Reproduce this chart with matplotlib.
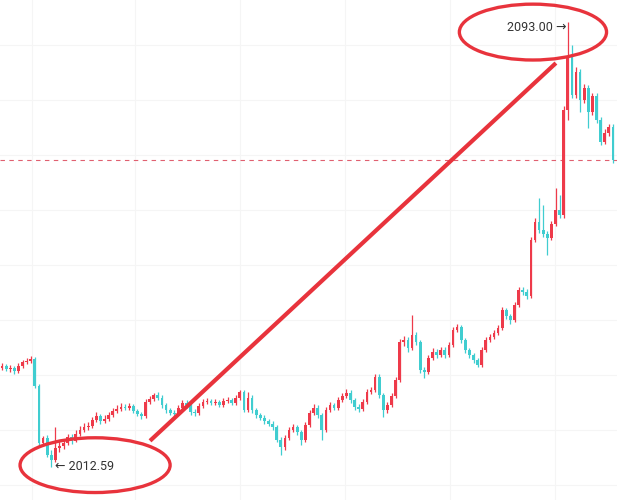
import numpy as np
import matplotlib.pyplot as plt
from matplotlib.patches import Ellipse

plt.rcParams['font.family'] = ['Roboto', 'DejaVu Sans']

# candle values (price units)
opens = [2030.5, 2030.8, 2030.3, 2030.5, 2029.9, 2030.8, 2031.6, 2031.7, 2032.1, 2027.2,
         2016.9, 2017.8, 2014.8, 2013.9, 2016.0, 2016.4, 2016.9, 2018.0, 2017.3, 2018.6,
         2019.3, 2019.8, 2020.0, 2021.1, 2021.8, 2020.9, 2021.3, 2022.0, 2022.7, 2023.1,
         2023.4, 2023.3, 2023.6, 2022.7, 2022.2, 2021.8, 2024.3, 2024.9, 2025.6, 2025.1,
         2023.8, 2022.9, 2022.4, 2022.2, 2023.3, 2024.2, 2023.8, 2022.5, 2022.4, 2023.6,
         2024.3, 2024.5, 2024.2, 2024.3, 2023.8, 2024.5, 2024.7, 2024.2, 2025.1, 2026.2,
         2022.9, 2025.1, 2022.9, 2022.0, 2021.5, 2020.9, 2020.4, 2019.8, 2017.5, 2016.2,
         2017.8, 2019.3, 2019.8, 2018.9, 2017.5, 2020.2, 2022.4, 2023.3, 2022.0, 2019.3,
         2022.9, 2023.8, 2023.3, 2024.7, 2025.4, 2026.0, 2024.7, 2023.4, 2023.1, 2024.3,
         2026.2, 2026.5, 2028.9, 2025.6, 2022.9, 2023.8, 2025.4, 2028.3, 2035.2, 2035.5,
         2034.1, 2036.4, 2035.2, 2030.1, 2029.8, 2032.3, 2033.4, 2032.8, 2033.7, 2032.8,
         2034.6, 2037.4, 2037.9, 2035.5, 2033.7, 2032.8, 2031.9, 2031.0, 2033.7, 2035.5,
         2036.1, 2036.8, 2037.7, 2041.0, 2039.9, 2039.2, 2041.9, 2044.6, 2044.2, 2043.5,
         2053.6, 2056.9, 2055.4, 2054.7, 2054.0, 2056.5, 2059.0, 2058.1, 2077.1, 2086.7,
         2079.8, 2084.0, 2078.9, 2081.1, 2076.7, 2079.6, 2075.3, 2071.3, 2073.0, 2074.0]

closes = [2030.8, 2030.3, 2030.5, 2029.9, 2030.8, 2031.6, 2031.7, 2032.1, 2027.2, 2016.9,
          2017.8, 2014.8, 2013.9, 2016.0, 2016.4, 2016.9, 2018.0, 2017.3, 2018.6, 2019.3,
          2019.8, 2020.0, 2021.1, 2021.8, 2020.9, 2021.3, 2022.0, 2022.7, 2023.1, 2023.4,
          2023.3, 2023.6, 2022.7, 2022.2, 2021.8, 2024.3, 2024.9, 2025.6, 2025.1, 2023.8,
          2022.9, 2022.4, 2022.2, 2023.3, 2024.2, 2023.8, 2022.5, 2022.4, 2023.6, 2024.3,
          2024.5, 2024.2, 2024.3, 2023.8, 2024.5, 2024.7, 2024.2, 2025.1, 2026.2, 2022.9,
          2025.1, 2022.9, 2022.0, 2021.5, 2020.9, 2020.4, 2019.8, 2017.5, 2016.2, 2017.8,
          2019.3, 2019.8, 2018.9, 2017.5, 2020.2, 2022.4, 2023.3, 2022.0, 2019.3, 2022.9,
          2023.8, 2023.3, 2024.7, 2025.4, 2026.0, 2024.7, 2023.4, 2023.1, 2024.3, 2026.2,
          2026.5, 2028.9, 2025.6, 2022.9, 2023.8, 2025.4, 2028.3, 2035.2, 2035.5, 2034.1,
          2036.4, 2035.2, 2030.1, 2029.8, 2032.3, 2033.4, 2032.8, 2033.7, 2032.8, 2034.6,
          2037.4, 2037.9, 2035.5, 2033.7, 2032.8, 2031.9, 2031.0, 2033.7, 2035.5, 2036.1,
          2036.8, 2037.7, 2041.0, 2039.9, 2039.2, 2041.9, 2044.6, 2044.2, 2043.5, 2053.6,
          2056.9, 2055.4, 2054.7, 2054.0, 2056.5, 2059.0, 2058.1, 2077.1, 2086.7, 2079.8,
          2084.0, 2078.9, 2081.1, 2076.7, 2079.6, 2075.3, 2071.3, 2073.0, 2074.0, 2068.1]

highs = [2031.3, 2031.2, 2031.0, 2030.9, 2031.3, 2032.0, 2032.3, 2032.6, 2032.4, 2027.6,
         2018.2, 2018.3, 2015.6, 2019.8, 2017.2, 2017.6, 2018.6, 2018.5, 2019.2, 2019.9,
         2020.5, 2020.7, 2021.6, 2022.5, 2022.2, 2021.9, 2022.6, 2023.2, 2023.7, 2024.1,
         2023.9, 2024.2, 2024.0, 2023.1, 2022.6, 2024.8, 2025.4, 2026.0, 2026.1, 2025.5,
         2024.2, 2023.3, 2022.9, 2023.8, 2024.7, 2024.6, 2024.1, 2023.0, 2024.1, 2024.8,
         2025.0, 2024.9, 2024.9, 2024.7, 2025.0, 2025.3, 2025.1, 2025.6, 2026.5, 2026.5,
         2026.2, 2025.5, 2023.3, 2022.4, 2021.9, 2021.3, 2020.8, 2020.2, 2018.0, 2018.3,
         2019.8, 2020.4, 2020.2, 2019.3, 2020.7, 2022.9, 2023.9, 2023.7, 2022.4, 2023.4,
         2024.4, 2024.2, 2025.2, 2025.9, 2026.6, 2026.4, 2025.1, 2023.9, 2024.8, 2026.7,
         2027.1, 2029.4, 2029.3, 2026.0, 2024.4, 2025.9, 2028.8, 2035.7, 2036.2, 2036.0,
         2040.1, 2036.9, 2035.6, 2030.6, 2032.8, 2034.0, 2033.9, 2034.3, 2034.2, 2035.1,
         2037.9, 2038.5, 2038.3, 2035.9, 2034.1, 2033.2, 2032.3, 2034.2, 2036.0, 2036.7,
         2037.4, 2038.3, 2041.5, 2041.4, 2040.3, 2042.4, 2045.1, 2045.2, 2044.7, 2054.1,
         2057.5, 2061.2, 2059.9, 2055.2, 2057.1, 2063.0, 2061.7, 2077.8, 2093.00, 2088.8,
         2084.8, 2084.6, 2081.8, 2081.6, 2080.2, 2080.1, 2075.8, 2073.6, 2074.6, 2074.5]

lows = [2030.1, 2029.9, 2029.8, 2029.4, 2029.6, 2030.5, 2031.2, 2031.3, 2026.8, 2016.4,
        2016.4, 2014.3, 2012.59, 2013.5, 2015.2, 2015.9, 2016.5, 2016.8, 2017.0, 2018.2,
        2018.9, 2019.3, 2019.6, 2020.7, 2020.3, 2020.5, 2020.9, 2021.6, 2022.3, 2022.7,
        2022.8, 2022.9, 2022.3, 2021.7, 2021.3, 2021.4, 2023.9, 2024.5, 2024.7, 2023.3,
        2022.4, 2021.9, 2021.7, 2021.9, 2022.9, 2023.3, 2022.0, 2021.8, 2022.0, 2023.2,
        2023.9, 2023.8, 2023.8, 2023.4, 2023.4, 2024.1, 2023.7, 2023.8, 2024.7, 2022.5,
        2022.5, 2022.4, 2021.5, 2021.0, 2020.4, 2019.9, 2019.3, 2017.0, 2014.8, 2015.7,
        2017.4, 2018.9, 2018.4, 2016.6, 2017.1, 2019.8, 2022.0, 2021.5, 2017.5, 2018.9,
        2022.5, 2022.8, 2022.9, 2024.3, 2025.0, 2024.2, 2022.9, 2022.6, 2022.7, 2023.9,
        2025.8, 2026.1, 2025.1, 2021.6, 2022.4, 2023.4, 2025.0, 2027.9, 2034.4, 2033.3,
        2033.7, 2034.7, 2029.6, 2028.7, 2029.4, 2031.9, 2032.2, 2032.4, 2032.3, 2032.4,
        2034.2, 2037.0, 2035.0, 2033.2, 2032.3, 2031.4, 2030.7, 2030.6, 2033.3, 2035.1,
        2035.7, 2036.4, 2037.3, 2039.4, 2038.5, 2038.8, 2041.5, 2043.7, 2042.9, 2043.1,
        2053.2, 2054.9, 2054.2, 2050.9, 2053.6, 2056.1, 2057.6, 2057.6, 2075.3, 2079.2,
        2079.2, 2076.7, 2078.3, 2073.8, 2076.2, 2074.7, 2070.8, 2070.9, 2072.5, 2067.6]

low_label = "← 2012.59"
high_label = "2093.00 →"

up_color = '#ee3a4a'
down_color = '#40cdd0'
mark_color = '#e8333c'

o = np.array(opens)
c = np.array(closes)
h = np.array(highs)
l = np.array(lows)
x = np.arange(len(c))
colors = np.where(c >= o, up_color, down_color)

fig = plt.figure(figsize=(6.17, 5.0), dpi=100)
ax = fig.add_axes([0, 0, 1, 1])
ax.set_xlim(-0.49, 150.0)
ax.set_ylim(2006.6, 2097.0)

# faint grid
for gx in [7.3, 32.4, 58.0, 83.7, 109.3, 134.9]:
    ax.axvline(gx, color='#f5f5f5', lw=0.8, zorder=0)
for gy in [2009.3, 2019.3, 2029.2, 2039.2, 2049.1, 2059.0, 2069.0, 2078.9, 2088.9]:
    ax.axhline(gy, color='#f5f5f5', lw=0.8, zorder=0)

# current price line
ax.axhline(c[-1], color='#e06070', lw=0.8, ls=(0, (4, 4)), zorder=1)

# candles
ax.vlines(x, l, h, colors=colors, lw=0.9, zorder=2)
body = np.maximum(np.abs(c - o), 0.2)
ax.bar(x, body, bottom=np.minimum(o, c), width=0.68, color=colors, zorder=3)

# price labels
ax.text(12.9, l.min(), low_label, fontsize=9, color='#333333', va='center', ha='left')
ax.text(137.6, h.max() - 1.0, high_label, fontsize=9, color='#333333', va='center', ha='right')

# hand-drawn marks
ax.add_patch(Ellipse((22.7, 2012.9), 36.6, 9.9, fill=False, ec=mark_color, lw=2.4, zorder=4))
ax.add_patch(Ellipse((129.5, 2091.2), 35.9, 10.1, fill=False, ec=mark_color, lw=2.4, zorder=4))
ax.plot([36.1, 135.1], [2017.3, 2085.6], color=mark_color, lw=3.0, solid_capstyle='butt', zorder=4)

ax.axis('off')
fig.savefig('out.png', dpi=100, facecolor='white')
